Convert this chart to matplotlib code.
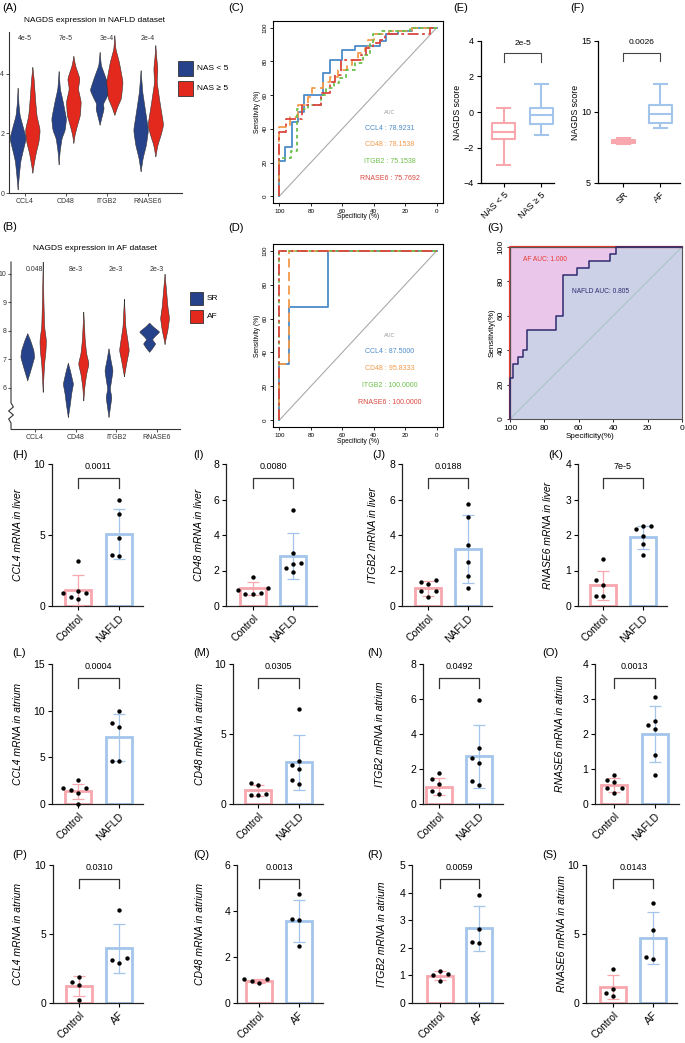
import numpy as np
import matplotlib
matplotlib.use("Agg")
import matplotlib.pyplot as plt
from matplotlib.patches import Rectangle

plt.rcParams['font.family'] = ['Liberation Sans', 'DejaVu Sans']

# ======================= DATA =======================
genes = ['CCL4', 'CD48', 'ITGB2', 'RNASE6']

# Panel A: violin outlines (y levels, half widths) - NAFLD dataset
A_low = {
    'CCL4': ([0.12, 0.6, 1.07, 1.4, 1.84, 2.2, 2.6, 3.0, 3.53], [0, 0.03, 0.065, 0.12, 0.2, 0.13, 0.05, 0.02, 0]),
    'CD48': ([0.96, 1.4, 1.84, 2.12, 2.5, 3.07, 3.5, 4.09], [0, 0.025, 0.07, 0.15, 0.18, 0.1, 0.03, 0]),
    'ITGB2': ([2.29, 2.57, 2.84, 3.0, 3.18, 3.46, 3.84, 4.29, 4.73], [0, 0.05, 0.1, 0.08, 0.15, 0.24, 0.15, 0.03, 0]),
    'RNASE6': ([0.73, 1.18, 1.62, 2.12, 2.84, 3.4, 4.12], [0, 0.05, 0.13, 0.18, 0.1, 0.04, 0]),
}
A_high = {
    'CCL4': ([0.68, 0.96, 1.34, 1.73, 2.12, 2.6, 3.07, 3.84, 4.23], [0, 0.03, 0.08, 0.15, 0.18, 0.1, 0.07, 0.03, 0]),
    'CD48': ([1.68, 1.96, 2.23, 2.62, 3.07, 3.5, 3.84, 4.29, 4.6], [0, 0.03, 0.08, 0.16, 0.18, 0.11, 0.15, 0.04, 0]),
    'ITGB2': ([2.62, 2.9, 3.18, 3.73, 4.4, 4.84, 5.29], [0, 0.07, 0.16, 0.2, 0.11, 0.025, 0]),
    'RNASE6': ([1.23, 1.62, 1.96, 2.29, 3.07, 3.73, 4.18, 4.5, 4.96], [0, 0.05, 0.13, 0.19, 0.1, 0.03, 0.05, 0.025, 0]),
}
A_pvals = ['4e-5', '7e-5', '3e-4', '2e-4']

# Panel B: violin outlines - AF dataset
B_sr = {
    'CCL4': ([6.27, 6.5, 6.74, 7.09, 7.33, 7.68, 7.92], [0, 0.05, 0.1, 0.17, 0.15, 0.07, 0]),
    'CD48': ([4.98, 5.45, 5.8, 6.15, 6.62, 6.88], [0, 0.05, 0.08, 0.125, 0.05, 0]),
    'ITGB2': ([4.98, 5.33, 5.68, 5.98, 6.15, 6.62, 6.98, 7.39], [0, 0.035, 0.07, 0.03, 0.05, 0.1, 0.05, 0]),
    'RNASE6': ([7.27, 7.39, 7.56, 7.71, 7.8, 7.98, 8.15, 8.29], [0, 0.07, 0.15, 0.07, 0.12, 0.25, 0.1, 0]),
}
B_af = {
    'CCL4': ([5.86, 6.39, 6.86, 7.33, 7.68, 8.15, 9.09, 10.45], [0, 0.017, 0.035, 0.07, 0.08, 0.035, 0.017, 0]),
    'CD48': ([5.56, 6.04, 6.5, 6.86, 7.21, 7.68, 8.68], [0, 0.025, 0.07, 0.13, 0.07, 0.035, 0]),
    'ITGB2': ([6.41, 6.62, 6.98, 7.33, 7.68, 8.15, 9.13], [0, 0.025, 0.07, 0.12, 0.085, 0.035, 0]),
    'RNASE6': ([7.54, 7.74, 8.04, 8.45, 8.86, 9.45, 10.01], [0, 0.025, 0.07, 0.11, 0.07, 0.035, 0]),
}
B_pvals = ['0.048', '8e-3', '2e-3', '2e-3']

# Panel C: ROC (specificity, sensitivity) NAFLD dataset
C_spec = {
    'CCL4': [100, 100, 96.2, 91.9, 87.9, 84.5, 72.3, 67.9, 60.2, 52.1, 36.2, 32.3, 24.9, 16, 0],
    'CD48': [100, 100, 93, 87.9, 81.5, 79, 72, 68, 62.8, 57, 53.6, 50, 45.7, 43.6, 40, 30, 16, 0],
    'ITGB2': [100, 100, 92.6, 88.5, 81.9, 73.4, 70.2, 65, 62, 57.5, 52, 46.6, 42.5, 40.4, 35, 17, 0],
    'RNASE6': [100, 100, 95.7, 85.7, 73.4, 68, 64.9, 60.6, 47.9, 44.7, 40.4, 36.2, 33, 4.3, 0],
}
C_sens = {
    'CCL4': [0, 21, 29, 44, 50, 60, 73, 81, 87, 89, 92, 96, 98, 100, 100],
    'CD48': [0, 41, 47, 54, 59, 64, 68, 71, 75, 78, 81, 85, 88, 93, 96, 98, 100, 100],
    'ITGB2': [0, 23, 27, 52, 54, 60, 64, 67, 70, 75, 79, 84, 91, 96, 98, 100, 100],
    'RNASE6': [0, 38, 46, 54, 61, 68, 72, 81, 84, 88, 91, 93, 96, 100, 100],
}
C_auc = ['78.9231', '78.1538', '75.1538', '75.7692']

# Panel D: ROC AF dataset
D_spec = {
    'CCL4': [100, 100, 93.75, 68.75, 0],
    'CD48': [100, 100, 93.75, 0],
    'ITGB2': [100, 100, 0],
    'RNASE6': [100, 100, 0],
}
D_sens = {
    'CCL4': [0, 33.3, 66.7, 100, 100],
    'CD48': [0, 33.3, 100, 100],
    'ITGB2': [0, 100, 100],
    'RNASE6': [0, 100, 100],
}
D_auc = ['87.5000', '95.8333', '100.0000', '100.0000']

# Panels E, F: NAGDS score box plots (whislo, q1, median, q3, whishi)
E_groups = ['NAS < 5', 'NAS ≥ 5']
E_stats = [[-3.0, -1.5, -1.15, -0.6, 0.25], [-1.3, -0.7, -0.15, 0.25, 1.6]]
E_p = '2e-5'
F_groups = ['SR', 'AF']
F_stats = [[7.75, 7.85, 7.95, 8.05, 8.2], [8.9, 9.2, 9.85, 10.5, 11.95]]
F_p = '0.0026'

# Panel G: NAGDS ROC
G_nafld_spec = [100, 100, 98, 95.5, 92.3, 90, 73, 69, 61.3, 54, 42, 38.5, 0]
G_nafld_sens = [0, 24, 32, 36, 40, 52, 60, 84, 88, 92, 96, 100, 100]
G_af_spec = [100, 100, 0]
G_af_sens = [0, 100, 100]

# Panels H-S: qPCR bars
bar_names = ['H', 'I', 'J', 'K', 'L', 'M', 'N', 'O', 'P', 'Q', 'R', 'S']
bar_ylabels = ['CCL4 mRNA in liver', 'CD48 mRNA in liver', 'ITGB2 mRNA in liver', 'RNASE6 mRNA in liver',
               'CCL4 mRNA in atrium', 'CD48 mRNA in atrium', 'ITGB2 mRNA in atrium', 'RNASE6 mRNA in atrium',
               'CCL4 mRNA in atrium', 'CD48 mRNA in atrium', 'ITGB2 mRNA in atrium', 'RNASE6 mRNA in atrium']
bar_groups = [['Control', 'NAFLD']] * 8 + [['Control', 'AF']] * 4
bar_means = [[1.13, 5.07], [1.0, 2.81], [1.0, 3.2], [0.58, 1.93],
             [1.36, 7.14], [0.98, 2.98], [1.0, 2.73], [0.54, 1.99],
             [1.21, 3.95], [0.96, 3.58], [0.99, 2.7], [1.17, 4.71]]
bar_sds = [[1.05, 1.75], [0.38, 1.3], [0.42, 1.9], [0.4, 0.33],
           [0.82, 2.5], [0.4, 1.95], [0.5, 1.8], [0.21, 0.8],
           [0.73, 1.8], [0.1, 0.92], [0.17, 0.82], [0.88, 1.92]]
bar_ctrl_pts = [[3.16, 0.92, 0.92, 1.06, 0.52, 0.64], [1.64, 0.7, 0.92, 1.0, 0.7, 0.72],
                [1.36, 1.45, 1.26, 0.85, 0.85, 0.51], [1.32, 0.73, 0.6, 0.28, 0.28],
                [2.6, 1.75, 1.75, 1.5, 1.18, 0.04], [1.5, 1.38, 0.62, 0.62, 0.74],
                [1.76, 1.42, 1.16, 0.72, 0.57], [0.83, 0.68, 0.62, 0.46, 0.46, 0.31],
                [1.89, 1.5, 1.33, 0.24], [1.06, 0.89, 1.04, 0.96],
                [1.05, 1.17, 1.01, 0.8], [2.44, 1.05, 0.51, 0.76]]
bar_case_pts = [[7.43, 6.49, 4.76, 3.5, 3.58], [5.42, 3.0, 2.34, 2.4, 2.15, 1.89],
                [5.72, 5.0, 3.42, 2.49, 1.7, 1.0], [2.24, 2.24, 2.17, 1.98, 1.76, 1.43],
                [9.93, 8.68, 8.21, 4.64, 4.64], [6.79, 3.1, 2.5, 2.79, 1.45, 1.69],
                [5.97, 3.2, 2.65, 2.37, 1.33, 1.08], [3.06, 2.37, 2.27, 2.15, 1.39, 0.83],
                [6.73, 3.27, 3.15, 2.9], [4.72, 3.65, 3.63, 2.47],
                [3.91, 2.68, 2.17, 2.21], [7.27, 5.27, 3.22, 3.32]]
bar_ymax = [10, 8, 8, 4, 15, 10, 8, 4, 10, 6, 5, 10]
bar_ystep = [5, 2, 2, 1, 5, 5, 2, 1, 5, 2, 1, 5]
bar_pvals = ['0.0011', '0.0080', '0.0188', '7e-5', '0.0004', '0.0305', '0.0492', '0.0013',
             '0.0310', '0.0013', '0.0059', '0.0143']

# ======================= STYLE / LAYOUT =======================
W, H = 685, 1043
NAVY = '#26428B'
RED = '#E3281E'
PINK = '#F8A7AF'
LBLUE = '#A3C5EB'
ROC_COL = {'CCL4': '#4C8BC8', 'CD48': '#F39A4C', 'ITGB2': '#6CBF4A', 'RNASE6': '#D9473F'}
ROC_LS = {'CCL4': '-', 'CD48': (0, (5, 2.5)), 'ITGB2': (0, (2, 1.8)), 'RNASE6': (0, (6, 2, 1.5, 2))}

fig = plt.figure(figsize=(W / 100, H / 100), dpi=100)


def px_ax(x0, y0, x1, y1):
    return fig.add_axes([x0 / W, 1 - y1 / H, (x1 - x0) / W, (y1 - y0) / H])


def ftext(x, y, s, **kw):
    fig.text(x / W, 1 - y / H, s, **kw)


def frect(x0, y0, x1, y1, color):
    fig.add_artist(Rectangle((x0 / W, 1 - y1 / H), (x1 - x0) / W, (y1 - y0) / H,
                             transform=fig.transFigure, facecolor=color,
                             edgecolor='#333333', lw=0.6))


def smooth_outline(ys, hws):
    yy = np.linspace(ys[0], ys[-1], 160)
    hh = np.interp(yy, ys, hws)
    k = np.ones(9) / 9
    hp = np.pad(hh, 4, mode='edge')
    hh = np.convolve(hp, k, mode='valid')
    hh[0] = hh[-1] = 0
    return yy, hh


def draw_violin(ax, x, ys, hws, color):
    yy, hh = smooth_outline(ys, hws)
    ax.fill_betweenx(yy, x - hh, x + hh, facecolor=color, edgecolor='#333333', lw=0.4, zorder=2)


def style_gg(ax, fs=5):
    for s in ['top', 'right']:
        ax.spines[s].set_visible(False)
    for s in ['left', 'bottom']:
        ax.spines[s].set_color('#333333')
        ax.spines[s].set_linewidth(0.8)
    ax.tick_params(length=2, width=0.6, labelsize=fs, pad=1.5, colors='#333333')


# ---------------- Panel A ----------------
axA = px_ax(9, 32, 182, 193)
for i, g in enumerate(genes):
    draw_violin(axA, i - 0.18, *A_low[g], NAVY)
    draw_violin(axA, i + 0.18, *A_high[g], RED)
    axA.text(i, 5.17, A_pvals[i], ha='center', va='center', fontsize=5, color='#333333')
axA.set_xlim(-0.39, 3.83)
axA.set_ylim(0, 5.4)
axA.set_xticks(range(4))
axA.set_xticklabels(genes)
axA.set_yticks([0, 2, 4])
style_gg(axA)
ftext(2, 8, '(A)', fontsize=8, va='center', ha='left')
ftext(95, 21, 'NAGDS expression in NAFLD dataset', fontsize=6, ha='center', va='center')
frect(178, 61, 193, 76, NAVY)
frect(178, 81, 193, 96, RED)
ftext(197, 69, 'NAS < 5', fontsize=6, va='center')
ftext(197, 89, 'NAS ≥ 5', fontsize=6, va='center')

# ---------------- Panel B ----------------
axB = px_ax(11, 262, 180, 429)
for i, g in enumerate(genes):
    draw_violin(axB, i - 0.19, *B_sr[g], NAVY)
    draw_violin(axB, i + 0.19, *B_af[g], RED)
    axB.text(i, 10.15, B_pvals[i], ha='center', va='center', fontsize=5, color='#333333')
axB.set_xlim(-0.59, 3.57)
axB.set_ylim(4.56, 10.42)
axB.set_xticks(range(4))
axB.set_xticklabels(genes)
axB.set_yticks([6, 7, 8, 9, 10])
style_gg(axB)
axB.spines['left'].set_visible(False)
zz_y = np.linspace(0.156, 0.036, 6)
zz_x = np.array([0, 0.014, -0.014, 0.014, -0.014, 0])
axB.plot(np.r_[0, zz_x, 0], np.r_[1, zz_y, 0], transform=axB.transAxes, clip_on=False,
         color='#333333', lw=0.8)
ftext(2, 227, '(B)', fontsize=8, va='center', ha='left')
ftext(95, 248, 'NAGDS expression in AF dataset', fontsize=6, ha='center', va='center')
frect(190, 292, 203, 305, NAVY)
frect(190, 310, 203, 323, RED)
ftext(207, 298, 'SR', fontsize=6, va='center')
ftext(207, 316, 'AF', fontsize=6, va='center')


# ---------------- Panels C, D ----------------
def roc_panel(ax, spec, sens, aucs, xlab_y):
    ax.plot([100, 0], [0, 100], color='#AAAAAA', lw=0.8, zorder=1)
    for g in genes:
        ax.plot(spec[g], sens[g], drawstyle='steps-post', color=ROC_COL[g], ls=ROC_LS[g], lw=1.3, zorder=3)
    ax.set_xlim(104, -4)
    ax.set_ylim(-4, 104)
    ax.set_xticks([100, 80, 60, 40, 20, 0])
    ax.set_yticks([0, 20, 40, 60, 80, 100])
    ax.tick_params(length=2.5, width=0.6, labelsize=4.5, pad=1.5)
    for lab in ax.get_yticklabels():
        lab.set_rotation(90)
        lab.set_va('center')
    for s in ax.spines.values():
        s.set_linewidth(0.8)
    ax.set_xlabel('Specificity (%)', fontsize=4.8, va='center')
    ax.xaxis.set_label_coords(0.5, xlab_y)
    ax.set_ylabel('Sensitivity (%)', fontsize=4.8, va='center')
    ax.yaxis.set_label_coords(-0.094, 0.5)
    ax.text(30, 50, 'AUC', fontsize=4, color='#999999', ha='center', va='center')
    for k, g in enumerate(genes):
        ax.text(30, 40.5 - 10 * k, f'{g} : {aucs[k]}', fontsize=5, color=ROC_COL[g],
                ha='center', va='center')


axC = px_ax(273, 21, 443, 203)
roc_panel(axC, C_spec, C_sens, C_auc, -0.072)
ftext(228, 8, '(C)', fontsize=8, va='center', ha='left')

axD = px_ax(273, 244, 443, 427)
roc_panel(axD, D_spec, D_sens, D_auc, -0.077)
ftext(228, 228, '(D)', fontsize=8, va='center', ha='left')


# ---------------- Panels E, F ----------------
def box_panel(ax, stats, groups, ylim, yticks, ptxt, br_lo, br_hi, ptxt_y, xlim):
    cols = [PINK, LBLUE]
    bst = []
    for st in stats:
        bst.append(dict(whislo=st[0], q1=st[1], med=st[2], q3=st[3], whishi=st[4], fliers=[]))
    for i, (b, c) in enumerate(zip(bst, cols)):
        ax.bxp([b], positions=[i], widths=0.62, showfliers=False, capwidths=0.35,
               boxprops=dict(color=c, lw=1.5), whiskerprops=dict(color=c, lw=1.5),
               capprops=dict(color=c, lw=1.5), medianprops=dict(color=c, lw=1.5))
    ax.set_xlim(*xlim)
    ax.set_ylim(*ylim)
    ax.set_yticks(yticks)
    ax.set_xticks([0, 1])
    ax.set_xticklabels(groups, rotation=45, ha='right', rotation_mode='anchor')
    for s in ['top', 'right']:
        ax.spines[s].set_visible(False)
    for s in ['left', 'bottom']:
        ax.spines[s].set_linewidth(0.9)
    ax.tick_params(length=3, width=0.8, labelsize=6.5, pad=2)
    ax.plot([0, 0, 1, 1], [br_lo, br_hi, br_hi, br_lo], color='#444444', lw=0.8)
    ax.text(0.5, ptxt_y, ptxt, ha='center', va='center', fontsize=6)
    ax.set_ylabel('NAGDS score', fontsize=6.3, va='center')


axE = px_ax(481, 41, 554, 183)
box_panel(axE, E_stats, E_groups, (-4, 4), [-4, -2, 0, 2, 4], E_p, 2.82, 3.34, 3.85, (-0.62, 1.35))
axE.yaxis.set_label_coords(-23 / 73, 0.5)
ftext(453, 8, '(E)', fontsize=8, va='center', ha='left')

axF = px_ax(598, 41, 680, 183)
box_panel(axF, F_stats, F_groups, (5, 15), [5, 10, 15], F_p, 13.57, 14.18, 14.86, (-0.68, 1.54))
axF.yaxis.set_label_coords(-23 / 82, 0.5)
ftext(570, 8, '(F)', fontsize=8, va='center', ha='left')

# ---------------- Panel G ----------------
axG = px_ax(510, 247, 682, 419)
axG.fill_between(G_nafld_spec, G_nafld_sens, 0, step='post', color='#CDD1E8', lw=0, zorder=0)
axG.fill_between(G_nafld_spec, G_nafld_sens, 100, step='post', color='#EBC6EB', lw=0, zorder=0)
axG.plot([100, 0], [0, 100], color='#A9C6C6', lw=0.8, zorder=1)
axG.plot(G_af_spec, G_af_sens, drawstyle='steps-post', color='#E53A2F', lw=1.6, zorder=2, clip_on=False)
axG.plot(G_nafld_spec, G_nafld_sens, drawstyle='steps-post', color='#2E2B6E', lw=1.1, zorder=3, clip_on=False)
axG.set_xlim(100, 0)
axG.set_ylim(0, 100)
axG.set_xticks([100, 80, 60, 40, 20, 0])
axG.set_yticks([0, 20, 40, 60, 80, 100])
axG.tick_params(length=2.5, width=0.6, labelsize=6, pad=1.5)
for lab in axG.get_yticklabels():
    lab.set_rotation(90)
    lab.set_va('center')
for s in axG.spines.values():
    s.set_linewidth(0.8)
    s.set_color('#555555')
axG.set_xlabel('Specificity(%)', fontsize=5.8, va='center')
axG.xaxis.set_label_coords(0.465, -0.1)
axG.set_ylabel('Sensitivity(%)', fontsize=5.8, va='center')
axG.yaxis.set_label_coords(-0.105, 0.5)
axG.text(79.7, 93, 'AF AUC: 1.000', color='#E53A2F', fontsize=4.8, ha='center', va='center')
axG.text(47.6, 74, 'NAFLD AUC: 0.805', color='#2E2B6E', fontsize=4.8, ha='center', va='center')
ftext(487, 228, '(G)', fontsize=8, va='center', ha='left')

# ---------------- Panels H-S ----------------
# (left spine px, control centre px, case centre px, label x px, ylabel x px)
cols_layout = [
    (52, 78, 119, 12, 18), (226, 253, 293, 193, 199), (402, 428, 468, 372, 373), (578, 603, 643, 548, 548),
    (52, 78, 119, 12, 18), (233, 258, 299, 193, 200), (423, 439, 479, 367, 380), (595, 614, 655, 542, 560),
    (53, 79, 119, 12, 18), (237, 259, 299, 193, 200), (412, 440, 479, 367, 382), (586, 613, 653, 542, 562),
]
rows_layout = [(464, 606, 455)] * 4 + [(664, 804, 653)] * 4 + [(865, 1003, 855)] * 4


def swarm_offsets(vals, xppu, yppu, step=7.5):
    vals = np.asarray(vals, float)
    offs = np.zeros(len(vals))
    placed = []
    for idx in np.argsort(vals):
        y = vals[idx] * yppu
        for k in [0, -1, 1, -2, 2, -3, 3]:
            x = k * step
            if all((x - px) ** 2 + (y - py) ** 2 >= (step * 0.93) ** 2 for px, py in placed):
                break
        placed.append((x, y))
        offs[idx] = x / xppu
    return offs


for n in range(12):
    left, c0, c1, labx, ylabx = cols_layout[n]
    top, bot, laby = rows_layout[n]
    right = c1 + 24
    ax = px_ax(left, top, right, bot)
    unit = c1 - c0
    ax.set_xlim((left - c0) / unit, (right - c0) / unit)
    ymax = bar_ymax[n]
    ax.set_ylim(0, ymax)
    yppu = (bot - top) / ymax
    ecols = [PINK, LBLUE]
    ax.bar([0, 1], bar_means[n], width=0.65, color='white', edgecolor=ecols, linewidth=2.0, zorder=2)
    for i in range(2):
        ax.errorbar(i, bar_means[n][i], yerr=bar_sds[n][i], color=ecols[i], capsize=4.5,
                    elinewidth=0.9, capthick=0.9, zorder=3)
    for i, pts in enumerate([bar_ctrl_pts[n], bar_case_pts[n]]):
        offs = swarm_offsets(pts, unit, yppu)
        ax.scatter(i + offs, pts, s=10, color='black', zorder=4, clip_on=False, linewidths=0)
    # significance bracket
    yl, yh, yt = 0.83 * ymax, 0.9 * ymax, 0.985 * ymax
    ax.plot([0, 0, 1, 1], [yl, yh, yh, yl], color='#333333', lw=0.9, clip_on=False)
    ax.text(0.5, yt, bar_pvals[n], ha='center', va='center', fontsize=6.5)
    ax.set_yticks(np.arange(0, ymax + 0.001, bar_ystep[n]))
    ax.set_xticks([0, 1])
    ax.set_xticklabels(bar_groups[n], rotation=45, ha='right', rotation_mode='anchor')
    for s in ['top', 'right']:
        ax.spines[s].set_visible(False)
    for s in ['left', 'bottom']:
        ax.spines[s].set_linewidth(0.9)
        ax.spines[s].set_color('#222222')
    ax.tick_params(length=3, width=0.8, labelsize=7.5, pad=2)
    ax.set_ylabel(bar_ylabels[n], fontsize=7.5, style='italic', va='center')
    ax.yaxis.set_label_coords((ylabx - left) / (right - left), 0.5)
    ftext(labx, laby, f'({bar_names[n]})', fontsize=8, va='center', ha='left')

fig.savefig('out.png', dpi=100)
